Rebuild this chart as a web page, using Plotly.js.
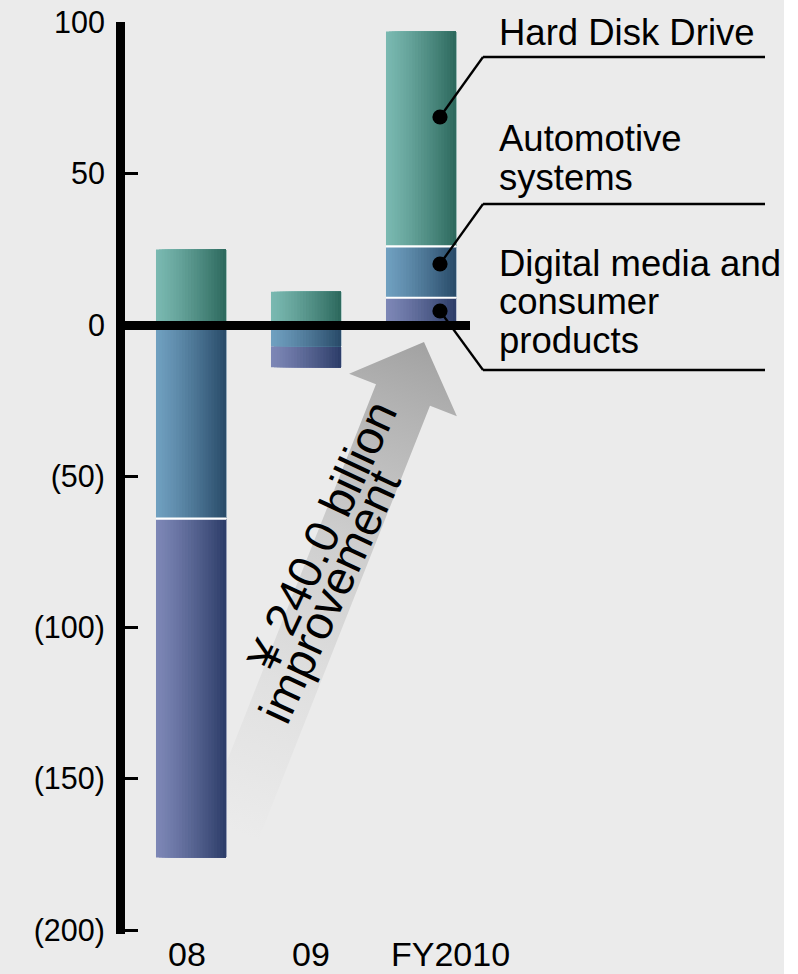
<!DOCTYPE html>
<html>
<head>
<meta charset="utf-8">
<script src="https://cdn.plot.ly/plotly-3.0.1.min.js"></script>
<style>
html,body{margin:0;padding:0;background:#ffffff;}
#chart{width:798px;height:974px;}
</style>
</head>
<body>
<div id="chart"></div>
<script>
// ---------------- data ----------------
const categories = ['08', '09', 'FY2010'];
const hardDiskDrive = [25, 11, 71];
const automotiveSystems = [-64, -7, 17];
const digitalMediaConsumer = [-112, -7, 9];
const yTickVals = [100, 50, 0, -50, -100, -150, -200];
const yTickText = ['100', '50', '0', '(50)', '(100)', '(150)', '(200)'];
const arrowText = ['\u00A5 240.0 billion', 'improvement'];
const showDividers = [true, false, true];

// ---------------- layout geometry ----------------
const W = 798, H = 974;
const M = {l: 125, r: 328, t: 22, b: 40};
const PW = W - M.l - M.r, PH = H - M.t - M.b;
const px2x = px => (px - M.l) / PW;
const py2y = py => (H - M.b - py) / PH;
const FONT = 'Liberation Sans, Arial, Helvetica, sans-serif';
const BAR_W = 0.609;
const STRIPS = 24;

// series with gradient colours (left -> right)
const series = [
  {key: 'dm',   values: digitalMediaConsumer, c0: [125, 135, 182], c1: [44, 60, 104]},
  {key: 'auto', values: automotiveSystems,    c0: [112, 160, 192], c1: [40, 74, 104]},
  {key: 'hdd',  values: hardDiskDrive,        c0: [122, 185, 177], c1: [44, 104, 92]}
];
const byKey = {}; series.forEach(s => byKey[s.key] = s);
const posOrder = ['dm', 'auto', 'hdd'];
const negOrder = ['auto', 'dm', 'hdd'];

// compute stacking bases
series.forEach(s => s.base = categories.map(() => 0));
const sepX = [], sepBase = [];
categories.forEach((c, i) => {
  [[posOrder, v => v >= 0], [negOrder, v => v < 0]].forEach(([order, test]) => {
    let cum = 0, n = 0;
    order.forEach(k => {
      const v = byKey[k].values[i];
      if (test(v)) {
        if (n > 0 && showDividers[i]) { sepX.push(c); sepBase.push(cum); }
        byKey[k].base[i] = cum; cum += v; n++;
      }
    });
  });
});

const lerp = (a, b, t) => Math.round(a + (b - a) * t);
const traces = [];
series.forEach(s => {
  for (let k = 0; k < STRIPS; k++) {
    const t = Math.pow((k + 0.5) / STRIPS, 1.2);
    const col = `rgb(${lerp(s.c0[0], s.c1[0], t)},${lerp(s.c0[1], s.c1[1], t)},${lerp(s.c0[2], s.c1[2], t)})`;
    const off = -BAR_W / 2 + k * BAR_W / STRIPS;
    traces.push({
      type: 'bar', x: categories, y: s.values, base: s.base,
      offset: off, width: BAR_W / 2 - off,
      marker: {color: col, line: {width: 0}},
      hoverinfo: 'skip', showlegend: false
    });
  }
});
// white separators between stacked segments
traces.push({
  type: 'bar', x: sepX, y: sepX.map(() => 0.7), base: sepBase.map(v => v - 0.35),
  offset: -BAR_W / 2, width: BAR_W,
  marker: {color: '#ffffff', line: {width: 0}},
  hoverinfo: 'skip', showlegend: false
});

// ---------------- arrow (decoration) ----------------
const B = [231, 830], Hd = [403, 395], T = [424, 342];
const len = Math.hypot(Hd[0] - B[0], Hd[1] - B[1]);
const d = [(Hd[0] - B[0]) / len, (Hd[1] - B[1]) / len];
const p = [-d[1], d[0]];
const pt = (o, s) => `${(o[0] + p[0] * s).toFixed(1)},${(o[1] + p[1] * s).toFixed(1)}`;
const poly = [pt(B, -29), pt(Hd, -29), pt(Hd, -58), `${T[0]},${T[1]}`, pt(Hd, 58), pt(Hd, 29), pt(B, 29)].join(' ');
const svg = `<svg xmlns="http://www.w3.org/2000/svg" width="${W}" height="${H}" viewBox="0 0 ${W} ${H}">` +
  `<rect x="0" y="0" width="784" height="${H}" fill="#ebebeb"/>` +
  `<defs><linearGradient id="g" gradientUnits="userSpaceOnUse" x1="${B[0]}" y1="${B[1]}" x2="${T[0]}" y2="${T[1]}">` +
  `<stop offset="0" stop-color="#ebebeb"/><stop offset="0.3" stop-color="#e0e0e0"/>` +
  `<stop offset="0.6" stop-color="#cdcdcd"/><stop offset="0.85" stop-color="#b4b4b4"/>` +
  `<stop offset="1" stop-color="#a2a2a2"/></linearGradient></defs>` +
  `<polygon points="${poly}" fill="url(#g)"/></svg>`;

// ---------------- annotations ----------------
const annotations = [];
const catCenters = [186.8, 310.8, 450];
categories.forEach((c, i) => {
  annotations.push({x: px2x(catCenters[i]), y: py2y(954), xref: 'paper', yref: 'paper',
    text: c, showarrow: false, xanchor: 'center', yanchor: 'middle', borderpad: 0,
    font: {family: FONT, size: 34, color: '#000'}});
});
const labelLines = [
  ['Hard Disk Drive', 32.5],
  ['Automotive', 138.7],
  ['systems', 178],
  ['Digital media and', 263],
  ['consumer', 302],
  ['products', 340]
];
labelLines.forEach(([txt, cy]) => {
  annotations.push({x: px2x(497), y: py2y(cy), xref: 'paper', yref: 'paper',
    text: txt, showarrow: false, xanchor: 'left', yanchor: 'middle',
    font: {family: FONT, size: 36.5, color: '#000'}});
});
const arrowCenters = [[321, 536], [329, 596]];
arrowText.forEach((txt, i) => {
  annotations.push({x: px2x(arrowCenters[i][0]), y: py2y(arrowCenters[i][1]), xref: 'paper', yref: 'paper',
    text: txt, showarrow: false, xanchor: 'center', yanchor: 'middle', textangle: -65,
    font: {family: FONT, size: 47, color: '#000'}});
});

// ---------------- leader lines & dots ----------------
const shapes = [];
const LC = '#000', LW = 2.3;
const leaders = [
  {dot: [440, 117], knee: [483, 57]},
  {dot: [440, 264], knee: [483, 204]},
  {dot: [440, 311], knee: [483, 370]}
];
leaders.forEach(L => {
  shapes.push({type: 'line', xref: 'paper', yref: 'paper', x0: px2x(L.dot[0]), y0: py2y(L.dot[1]),
    x1: px2x(L.knee[0]), y1: py2y(L.knee[1]), line: {color: LC, width: LW}});
  shapes.push({type: 'line', xref: 'paper', yref: 'paper', x0: px2x(L.knee[0]), y0: py2y(L.knee[1]),
    x1: px2x(765), y1: py2y(L.knee[1]), line: {color: LC, width: LW}});
  const r = 7.6;
  shapes.push({type: 'circle', xref: 'paper', yref: 'paper',
    x0: px2x(L.dot[0] - r), x1: px2x(L.dot[0] + r), y0: py2y(L.dot[1] + r), y1: py2y(L.dot[1] - r),
    fillcolor: '#000', line: {width: 0}});
});

const layout = {
  width: W, height: H,
  margin: M,
  paper_bgcolor: '#ffffff',
  plot_bgcolor: 'rgba(0,0,0,0)',
  barmode: 'overlay',
  showlegend: false,
  xaxis: {type: 'category', range: [-0.574, 2.426], showticklabels: false, ticks: '',
    showline: false, showgrid: false, zeroline: false, fixedrange: true},
  yaxis: {range: [-201.32, 100.17], tickvals: yTickVals, ticktext: yTickText,
    tickfont: {family: FONT, size: 30.5, color: '#000'}, ticklabelstandoff: 5,
    ticks: 'inside', ticklen: 13, tickwidth: 3, tickcolor: '#000',
    showline: true, linewidth: 9, linecolor: '#000',
    showgrid: false, zeroline: true, zerolinewidth: 9, zerolinecolor: '#000',
    layer: 'above traces', zerolinelayer: 'above traces', fixedrange: true},
  images: [{source: 'data:image/svg+xml;charset=utf-8,' + encodeURIComponent(svg),
    xref: 'paper', yref: 'paper', x: px2x(0), y: py2y(0), sizex: W / PW, sizey: H / PH,
    xanchor: 'left', yanchor: 'top', sizing: 'stretch', layer: 'below'}],
  annotations: annotations,
  shapes: shapes
};

Plotly.newPlot('chart', traces, layout, {displayModeBar: false, staticPlot: true});
</script>
</body>
</html>
